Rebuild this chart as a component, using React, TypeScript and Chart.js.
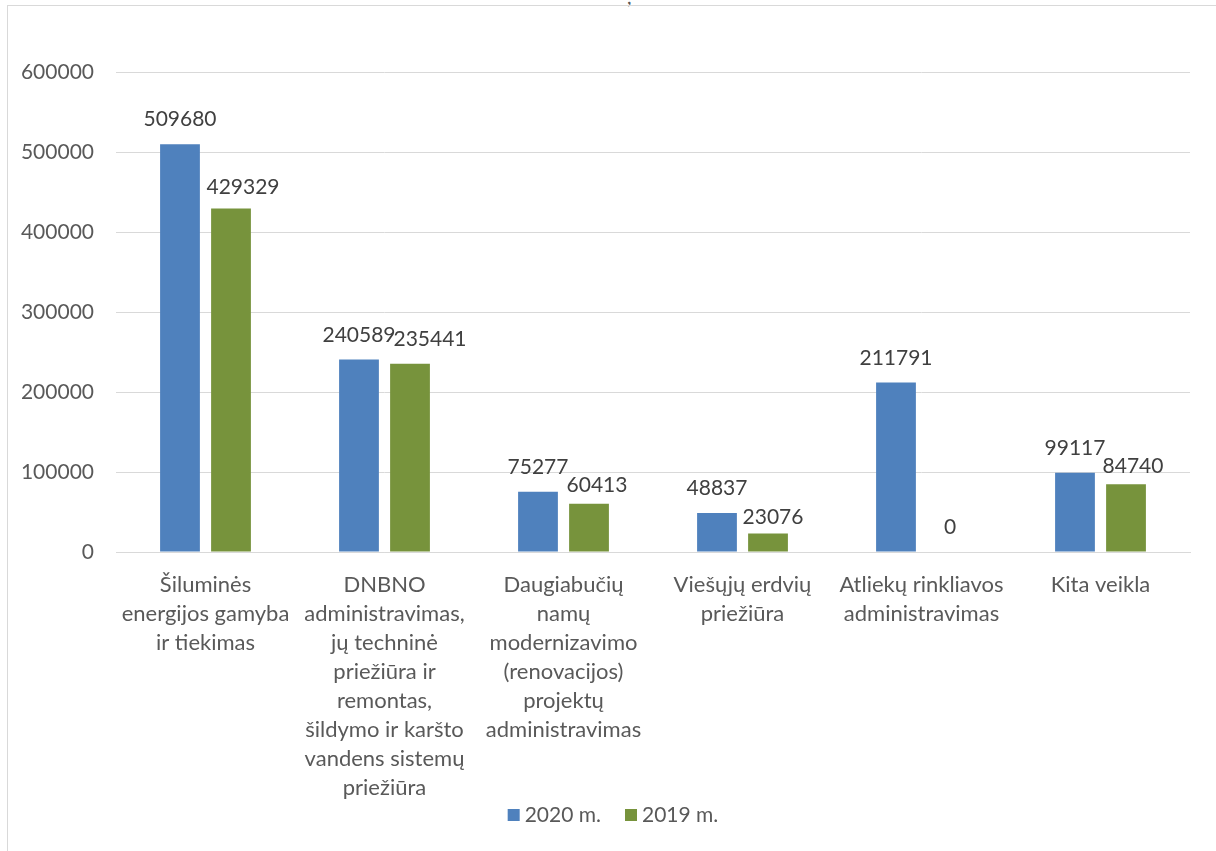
import React, { useEffect, useRef } from "react";
import { Chart, registerables } from "chart.js";

Chart.register(...registerables);

const categories: string[][] = [
  ["Šiluminės", "energijos gamyba", "ir tiekimas"],
  ["DNBNO", "administravimas,", "jų techninė", "priežiūra ir", "remontas,", "šildymo ir karšto", "vandens sistemų", "priežiūra"],
  ["Daugiabučių", "namų", "modernizavimo", "(renovacijos)", "projektų", "administravimas"],
  ["Viešųjų erdvių", "priežiūra"],
  ["Atliekų rinkliavos", "administravimas"],
  ["Kita veikla"],
];

const series2020: number[] = [509680, 240589, 75277, 48837, 211791, 99117];
const series2019: number[] = [429329, 235441, 60413, 23076, 0, 84740];

const seriesNames = ["2020 m.", "2019 m."];
const yTicks: number[] = [0, 100000, 200000, 300000, 400000, 500000, 600000];

// small nudges of value labels relative to their bars (as placed in the original)
const labelNudgeX: number[][] = [
  [0, 0, 0, 0, 0, 0],
  [12, 20, 8, 5, 3, 7],
];
const labelNudgeY: number[][] = [
  [0, 0, 0, 0, 0, 0],
  [3, 0, 6, 8, 0, 7],
];

const FONT = "Lato, 'Open Sans', sans-serif";

const dataLabelPlugin = {
  id: "dataLabels",
  afterDatasetsDraw(chart: any) {
    const ctx = chart.ctx;
    ctx.save();
    ctx.font = `21px ${FONT}`;
    ctx.fillStyle = "#404040";
    ctx.textAlign = "center";
    ctx.textBaseline = "alphabetic";
    chart.data.datasets.forEach((ds: any, di: number) => {
      const meta = chart.getDatasetMeta(di);
      meta.data.forEach((el: any, i: number) => {
        ctx.fillText(
          String(ds.data[i]),
          el.x + labelNudgeX[di][i],
          el.y - 18 + labelNudgeY[di][i]
        );
      });
    });
    ctx.restore();
  },
};

// bottom legend drawn below the category labels
const bottomLegendPlugin = {
  id: "bottomLegend",
  afterDraw(chart: any) {
    const ctx = chart.ctx;
    ctx.save();
    ctx.font = `21px ${FONT}`;
    ctx.textBaseline = "middle";
    ctx.textAlign = "left";
    const box = 12;
    const gapBoxText = 5;
    const gapItems = 24;
    const items = chart.data.datasets.map((ds: any) => ({
      label: ds.label,
      color: ds.backgroundColor,
      w: box + gapBoxText + ctx.measureText(ds.label).width,
    }));
    const total =
      items.reduce((s: number, it: any) => s + it.w, 0) + gapItems * (items.length - 1);
    const cy = 815;
    let x = (chart.chartArea.left + chart.chartArea.right) / 2 - total / 2 - 40;
    items.forEach((it: any) => {
      ctx.fillStyle = it.color;
      ctx.fillRect(x, cy - box / 2, box, box);
      ctx.fillStyle = "#595959";
      ctx.fillText(it.label, x + box + gapBoxText, cy);
      x += it.w + gapItems;
    });
    ctx.restore();
  },
};

export default function App() {
  const ref = useRef<HTMLCanvasElement>(null);
  useEffect(() => {
    if (!ref.current) return;
    const chart = new Chart(ref.current, {
      type: "bar",
      data: {
        labels: categories,
        datasets: [
          {
            label: seriesNames[0],
            data: series2020,
            backgroundColor: "#4F81BD",
            barPercentage: 0.78,
            categoryPercentage: 0.57,
          },
          {
            label: seriesNames[1],
            data: series2019,
            backgroundColor: "#77933C",
            barPercentage: 0.78,
            categoryPercentage: 0.57,
          },
        ],
      },
      options: {
        animation: false,
        responsive: false,
        maintainAspectRatio: false,
        layout: { padding: { top: 72, left: 0, right: 26, bottom: 0 } },
        plugins: {
          legend: { display: false },
          tooltip: { enabled: false },
          title: { display: false },
        },
        scales: {
          x: {
            grid: { display: false, drawTicks: false },
            border: { display: true, color: "#d9d9d9", width: 1 },
            ticks: {
              color: "#595959",
              font: { family: FONT, size: 22, lineHeight: 1.32 },
              maxRotation: 0,
              minRotation: 0,
              autoSkip: false,
              padding: 18,
            },
            afterFit(scale: any) {
              scale.height = 299;
            },
          },
          y: {
            min: 0,
            max: 600000,
            afterBuildTicks(scale: any) {
              scale.ticks = yTicks.map((v) => ({ value: v }));
            },
            grid: { color: "#d9d9d9", lineWidth: 1, drawTicks: false },
            border: { display: false },
            ticks: {
              color: "#595959",
              font: { family: FONT, size: 21 },
              padding: 22,
              callback: (v: any) => String(v),
            },
            afterFit(scale: any) {
              scale.width = 116;
            },
          },
        },
      },
      plugins: [dataLabelPlugin, bottomLegendPlugin],
    });
    return () => chart.destroy();
  }, []);

  return (
    <div
      style={{
        position: "fixed",
        left: 0,
        top: 0,
        width: 1216,
        height: 851,
        overflow: "hidden",
        background: "#fff",
      }}
    >
      <span
        style={{
          position: "absolute",
          left: 627,
          top: -16,
          fontFamily: FONT,
          fontSize: 20,
          color: "#595959",
        }}
      >
        ,
      </span>
      <div
        style={{
          position: "absolute",
          left: 7,
          top: 5,
          width: 1220,
          height: 860,
          borderLeft: "1px solid #d9d9d9",
          borderTop: "1px solid #d9d9d9",
        }}
      />
      <canvas
        ref={ref}
        width={1216}
        height={851}
        style={{ position: "absolute", left: 0, top: 0 }}
      />
    </div>
  );
}
